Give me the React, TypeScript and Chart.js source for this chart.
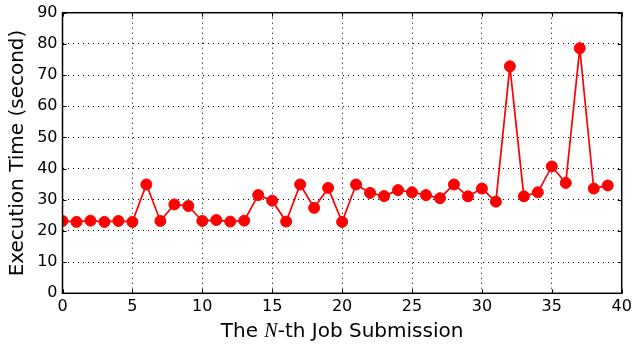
import React, { useEffect, useRef } from 'react';
import { Chart, registerables } from 'chart.js';

Chart.register(...registerables);

const jobIndex = [
  0, 1, 2, 3, 4, 5, 6, 7, 8, 9,
  10, 11, 12, 13, 14, 15, 16, 17, 18, 19,
  20, 21, 22, 23, 24, 25, 26, 27, 28, 29,
  30, 31, 32, 33, 34, 35, 36, 37, 38, 39,
];
const execTime = [
  23.2, 22.9, 23.3, 22.9, 23.2, 22.9, 34.9, 23.2, 28.5, 28.0,
  23.2, 23.5, 23.0, 23.3, 31.5, 29.7, 23.0, 34.9, 27.4, 33.8,
  22.9, 34.9, 32.2, 31.2, 33.1, 32.4, 31.5, 30.5, 34.9, 31.1,
  33.6, 29.4, 72.8, 31.1, 32.4, 40.7, 35.4, 78.6, 33.6, 34.6,
];
const xTicks = [0, 5, 10, 15, 20, 25, 30, 35, 40];
const yTicks = [0, 10, 20, 30, 40, 50, 60, 70, 80, 90];
const yTitle = 'Execution Time (second)';
const xTitleParts = ['The ', 'N', '-th Job Submission'];

const framePlugin = {
  id: 'frameAndTicks',
  afterDraw(chart: any) {
    const { ctx, chartArea } = chart;
    const { left, right, top, bottom } = chartArea;
    const xs = chart.scales.x;
    const ys = chart.scales.y;
    ctx.save();
    ctx.strokeStyle = '#000';
    ctx.lineWidth = 1;
    ctx.setLineDash([]);
    ctx.beginPath();
    for (const v of xTicks) {
      const px = Math.round(xs.getPixelForValue(v)) + 0.5;
      ctx.moveTo(px, bottom);
      ctx.lineTo(px, bottom - 4);
      ctx.moveTo(px, top);
      ctx.lineTo(px, top + 4);
    }
    for (const v of yTicks) {
      const py = Math.round(ys.getPixelForValue(v)) + 0.5;
      ctx.moveTo(left, py);
      ctx.lineTo(left + 4, py);
      ctx.moveTo(right, py);
      ctx.lineTo(right - 4, py);
    }
    ctx.stroke();
    ctx.lineWidth = 1.5;
    ctx.strokeRect(left, top, right - left, bottom - top);

    // x-axis title with italic N
    const sansFont = '20px "DejaVu Sans"';
    const italFont = 'italic 20px "Liberation Serif"';
    ctx.fillStyle = '#000';
    ctx.textBaseline = 'alphabetic';
    ctx.textAlign = 'left';
    ctx.font = sansFont;
    const w0 = ctx.measureText(xTitleParts[0]).width;
    const w2 = ctx.measureText(xTitleParts[2]).width;
    ctx.font = italFont;
    const w1 = ctx.measureText(xTitleParts[1]).width;
    const total = w0 + w1 + w2;
    let cx = (left + right) / 2 - total / 2;
    const baseY = 337;
    ctx.font = sansFont;
    ctx.fillText(xTitleParts[0], cx, baseY);
    cx += w0;
    ctx.font = italFont;
    ctx.fillText(xTitleParts[1], cx, baseY);
    cx += w1;
    ctx.font = sansFont;
    ctx.fillText(xTitleParts[2], cx, baseY);
    ctx.restore();
  },
};

export default function App() {
  const canvasRef = useRef<HTMLCanvasElement | null>(null);

  useEffect(() => {
    document.body.style.margin = '0';
    const canvas = canvasRef.current;
    if (!canvas) return;
    const chart = new Chart(canvas, {
      type: 'line',
      data: {
        datasets: [
          {
            label: 'Execution Time',
            data: jobIndex.map((x, i) => ({ x, y: execTime[i] })),
            borderColor: '#ff0000',
            backgroundColor: '#ff0000',
            borderWidth: 1.7,
            pointRadius: 5.5,
            pointBorderWidth: 1,
            pointBackgroundColor: '#ff0000',
            pointBorderColor: '#ff0000',
            tension: 0,
          },
        ],
      },
      options: {
        responsive: false,
        animation: false,
        devicePixelRatio: 1,
        layout: { padding: { left: 0, right: 10.3, top: 12.7, bottom: 0 } },
        plugins: {
          legend: { display: false },
          tooltip: { enabled: false },
        },
        scales: {
          x: {
            type: 'linear',
            min: 0,
            max: 40,
            afterBuildTicks: (scale: any) => {
              scale.ticks = xTicks.map((v) => ({ value: v }));
            },
            afterFit: (scale: any) => {
              scale.height = 53.7;
              scale.paddingLeft = 0;
              scale.paddingRight = 0;
            },
            ticks: {
              color: '#000',
              font: { family: 'DejaVu Sans', size: 16 },
              padding: 4,
              maxRotation: 0,
              autoSkip: false,
            },
            grid: { color: '#000', lineWidth: 1, drawTicks: false },
            border: { display: false, dash: [1, 4] },
          },
          y: {
            type: 'linear',
            min: 0,
            max: 90,
            afterBuildTicks: (scale: any) => {
              scale.ticks = yTicks.map((v) => ({ value: v }));
            },
            afterFit: (scale: any) => {
              scale.width = 62.5;
              scale.paddingTop = 0;
              scale.paddingBottom = 0;
            },
            ticks: {
              color: '#000',
              font: { family: 'DejaVu Sans', size: 16 },
              padding: 5,
              autoSkip: false,
            },
            grid: { color: '#000', lineWidth: 1, drawTicks: false },
            border: { display: false, dash: [1, 4] },
            title: {
              display: true,
              text: yTitle,
              color: '#000',
              font: { family: 'DejaVu Sans', size: 20 },
              padding: { top: 6, bottom: 0 },
            },
          },
        },
      },
      plugins: [framePlugin],
    });
    return () => chart.destroy();
  }, []);

  return (
    <div style={{ width: 632, height: 347 }}>
      <canvas ref={canvasRef} width={632} height={347} style={{ display: 'block' }} />
    </div>
  );
}
